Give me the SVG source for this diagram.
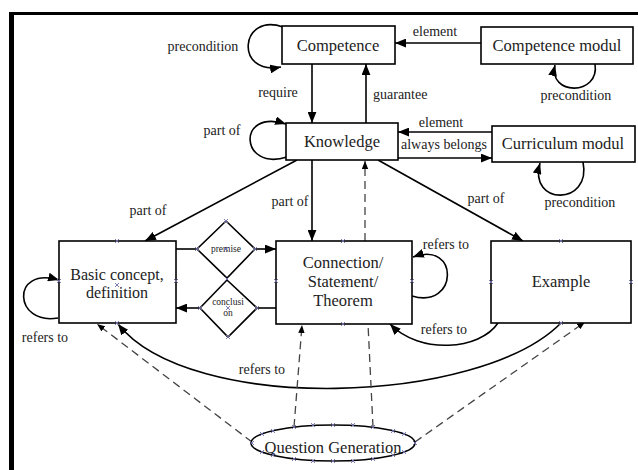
<svg xmlns="http://www.w3.org/2000/svg" width="638" height="470" viewBox="0 0 638 470">
<defs>
<style>
.box{fill:#fff;stroke:#000;stroke-width:1.6}
.ln{fill:none;stroke:#000;stroke-width:1.6}
.ds{fill:none;stroke:#444;stroke-width:1.3;stroke-dasharray:8 5}
.t{fill:#222;text-anchor:middle}
.big{font-size:16.5px}
.bc{font-size:16px}
.lb{font-size:14px}
.sm{font-size:9.5px}
.mk{fill:none;stroke:#6f6fa8;stroke-width:0.9}
</style>
<marker id="ah" viewBox="0 0 10 8" refX="10" refY="4" markerWidth="11" markerHeight="9" orient="auto" markerUnits="userSpaceOnUse"><path d="M0,0 L10,4 L0,8 z" fill="#000"/></marker>
<marker id="ahs" viewBox="0 0 10 8" refX="10" refY="4" markerWidth="8" markerHeight="7" orient="auto" markerUnits="userSpaceOnUse"><path d="M0,0 L10,4 L0,8 z" fill="#000"/></marker>
<path id="x" d="M-2,-2 L2,2 M-2,2 L2,-2"/>
</defs>
<rect x="0" y="0" width="638" height="470" fill="#fff"/>
<rect x="9" y="12" width="5" height="458" fill="#000"/>
<rect x="9" y="12" width="629" height="3" fill="#000"/>

<g id="connectors">
<path class="ln" d="M481,43 L395,43" marker-end="url(#ah)"/>
<path class="ln" d="M312,64 L312,123" marker-end="url(#ah)"/>
<path class="ln" d="M366,123 L366,64" marker-end="url(#ah)"/>
<path class="ln" d="M283,27 C240,12 234,76 281,67" marker-end="url(#ah)"/>
<path class="ln" d="M287,157 C240,172 236,108 286,124" marker-end="url(#ah)"/>
<path class="ln" d="M595,64 C600,96 548,96 555,65" marker-end="url(#ah)"/>
<path class="ln" d="M492,132 L398,132" marker-end="url(#ah)"/>
<path class="ln" d="M398,158 L492,158" marker-end="url(#ah)"/>
<path class="ln" d="M583,162 C592,206 528,206 540,163" marker-end="url(#ah)"/>
<path class="ln" d="M297,160 L145,241" marker-end="url(#ah)"/>
<path class="ln" d="M312,160 L312,241" marker-end="url(#ah)"/>
<path class="ln" d="M378,160 L523,241" marker-end="url(#ah)"/>
<path class="ln" d="M176,249 L197,249"/>
<path class="ln" d="M255,249 L276,249" marker-end="url(#ah)"/>
<path class="ln" d="M276,308 L257,308"/>
<path class="ln" d="M200,308 L176,308" marker-end="url(#ah)"/>
<path class="ln" d="M58,318 C14,326 10,266 59,280" marker-end="url(#ah)"/>
<path class="ln" d="M412,296 C458,310 460,240 413,257" marker-end="url(#ah)"/>
<path class="ln" d="M498,323 C480,350 420,355 390,324" marker-end="url(#ah)"/>
<path class="ln" d="M561,323 C480,405 190,415 118,324" marker-end="url(#ah)"/>
<path class="ds" d="M365,241 L365,161" marker-end="url(#ahs)"/>
<path class="ds" d="M252,442 L97,324" marker-end="url(#ahs)"/>
<path class="ds" d="M294,427 L302,325" marker-end="url(#ahs)"/>
<path class="ds" d="M373,427 L368,324"/>
<path class="ds" d="M415,442 L585,322" marker-end="url(#ahs)"/>
</g>

<g font-family="Liberation Serif, Times New Roman, DejaVu Serif, serif">
<g id="competence"><rect class="box" x="282" y="26" width="113" height="38"/><text class="t big" x="338" y="51">Competence</text></g>
<g id="competence-modul"><rect class="box" x="481" y="27" width="152" height="37"/><text class="t big" x="557" y="51">Competence modul</text></g>
<g id="knowledge"><rect class="box" x="286" y="123" width="112" height="37"/><text class="t big" x="342" y="147">Knowledge</text></g>
<g id="curriculum-modul"><rect class="box" x="492" y="126" width="143" height="36"/><text class="t big" x="563" y="149">Curriculum modul</text></g>
<g id="basic-concept"><rect class="box" x="59" y="241" width="117" height="82"/><text class="t bc" x="117" y="280">Basic concept,</text><text class="t bc" x="117" y="298">definition</text></g>
<g id="connection"><rect class="box" x="276" y="241" width="136" height="83"/><text class="t big" x="343" y="268">Connection/</text><text class="t big" x="343" y="287">Statement/</text><text class="t big" x="343" y="306">Theorem</text></g>
<g id="example"><rect class="box" x="491" y="241" width="140" height="82"/><text class="t big" x="561" y="287">Example</text></g>
<g id="premise"><path class="box" d="M226,221 L255,249 L227,278 L197,249 Z"/><text class="t sm" x="226" y="252">premise</text></g>
<g id="conclusion"><path class="box" d="M227,280 L257,308 L228,337 L200,308 Z"/><text class="t sm" x="228" y="305">conclusi</text><text class="t sm" x="228" y="316">on</text></g>
<g id="question-generation"><ellipse class="box" cx="333" cy="443" rx="82" ry="18"/><text class="t big" x="333" y="453">Question Generation</text></g>

<g id="labels">
<text class="t lb" x="203" y="51">precondition</text>
<text class="t lb" x="435" y="36">element</text>
<text class="t lb" x="576" y="100">precondition</text>
<text class="t lb" x="278" y="97">require</text>
<text class="t lb" x="373" y="99" style="text-anchor:start">guarantee</text>
<text class="t lb" x="222" y="135">part of</text>
<text class="t lb" x="441" y="127">element</text>
<text class="t lb" x="401" y="149" style="text-anchor:start">always belongs</text>
<text class="t lb" x="580" y="207">precondition</text>
<text class="t lb" x="148" y="215">part of</text>
<text class="t lb" x="290" y="206">part of</text>
<text class="t lb" x="486" y="203">part of</text>
<text class="t lb" x="446" y="249">refers to</text>
<text class="t lb" x="45" y="342">refers to</text>
<text class="t lb" x="444" y="334">refers to</text>
<text class="t lb" x="262" y="374">refers to</text>
</g>
</g>

<g id="connection-points" class="mk">
<use href="#x" x="117" y="241"/><use href="#x" x="59" y="281"/><use href="#x" x="176" y="281"/><use href="#x" x="117" y="285"/><use href="#x" x="117" y="323"/>
<use href="#x" x="343" y="241"/><use href="#x" x="276" y="281"/><use href="#x" x="412" y="281"/><use href="#x" x="343" y="283"/><use href="#x" x="343" y="324"/>
<use href="#x" x="561" y="241"/><use href="#x" x="491" y="282"/><use href="#x" x="631" y="282"/><use href="#x" x="561" y="282"/><use href="#x" x="561" y="323"/>
<use href="#x" x="226" y="221"/><use href="#x" x="197" y="249"/><use href="#x" x="255" y="249"/><use href="#x" x="226" y="249"/><use href="#x" x="227" y="279"/>
<use href="#x" x="200" y="308"/><use href="#x" x="257" y="308"/><use href="#x" x="228" y="308"/><use href="#x" x="228" y="337"/>
<use href="#x" x="252" y="443"/><use href="#x" x="415" y="443"/>
<use href="#x" x="262" y="434"/><use href="#x" x="273" y="431"/><use href="#x" x="294" y="427"/><use href="#x" x="313" y="425"/><use href="#x" x="333" y="425"/><use href="#x" x="353" y="425"/><use href="#x" x="373" y="427"/><use href="#x" x="393" y="431"/><use href="#x" x="404" y="434"/>
<use href="#x" x="262" y="452"/><use href="#x" x="273" y="455"/><use href="#x" x="294" y="459"/><use href="#x" x="313" y="461"/><use href="#x" x="333" y="461"/><use href="#x" x="353" y="461"/><use href="#x" x="373" y="459"/><use href="#x" x="393" y="455"/><use href="#x" x="404" y="452"/>
</g>
</svg>
